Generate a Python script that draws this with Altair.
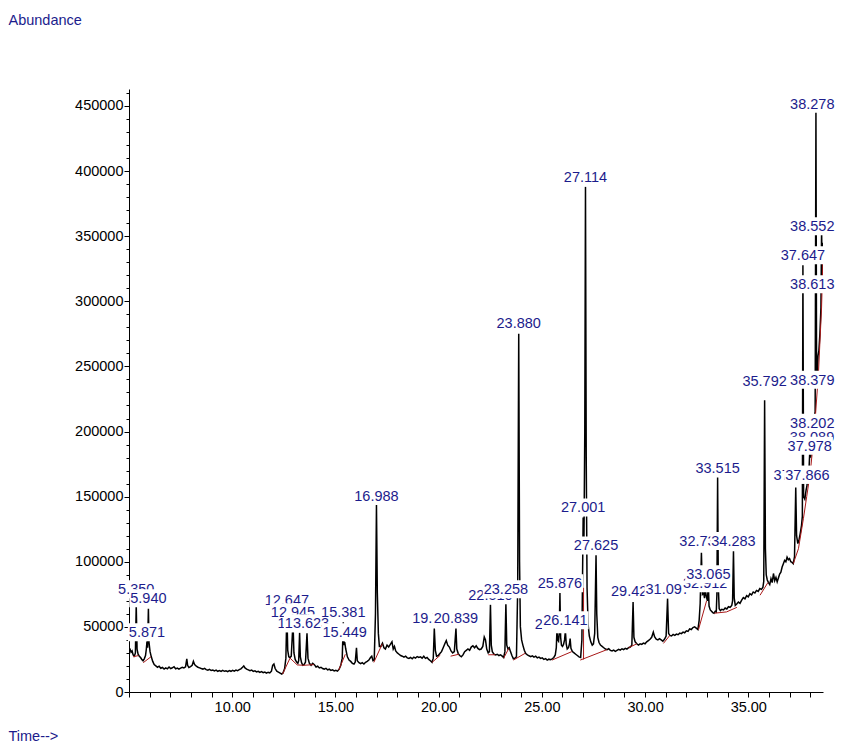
import altair as alt
import pandas as pd

# ---------------- trace (retention time in minutes, abundance) ----------------
RT_A = [5.00, 5.05, 5.10, 5.15, 5.20, 5.26, 5.31, 5.35, 5.39, 5.44,
        5.50, 5.56, 5.62, 5.68, 5.74, 5.80, 5.84, 5.871, 5.90, 5.94,
        5.97, 6.02, 6.08]
AB_A = [34000, 33000, 30500, 31500, 28500, 27500, 30000, 67000, 33000, 29000,
        27500, 26500, 25000, 24000, 25500, 28000, 33000, 39000, 34000, 64000,
        38000, 31000, 27000]

RT_B = [6.15, 6.22, 6.30, 6.38, 6.46, 6.54, 6.62, 6.70, 6.78, 6.86,
        6.94, 7.02, 7.10, 7.18, 7.26, 7.34, 7.42, 7.50, 7.58, 7.66,
        7.74, 7.80, 7.84, 7.90, 7.98, 8.06, 8.12, 8.18, 8.26, 8.34,
        8.42, 8.50, 8.58, 8.66, 8.74, 8.82, 8.90, 8.98, 9.06, 9.14,
        9.22, 9.30, 9.38, 9.46, 9.54, 9.62, 9.70, 9.78, 9.86, 9.94,
        10.02, 10.10, 10.18, 10.26, 10.34, 10.42, 10.50, 10.56, 10.62, 10.70,
        10.78, 10.86, 10.94, 11.02, 11.10, 11.18, 11.26, 11.34, 11.42, 11.50,
        11.58, 11.66, 11.74, 11.82, 11.90, 11.96, 12.02, 12.08, 12.16, 12.24,
        12.32, 12.40, 12.46]
AB_B = [23500, 21000, 20000, 19000, 19800, 18200, 18800, 17600, 18500, 17800,
        19200, 18000, 18600, 19400, 17800, 18400, 17600, 18300, 19000, 18500,
        19300, 25500, 20500, 18800, 19500, 20500, 23500, 21000, 19800, 19000,
        18500, 18000, 17600, 18200, 17200, 16800, 17400, 16500, 16900, 16200,
        16800, 15900, 16400, 15800, 16600, 15900, 16300, 15700, 16500, 15900,
        16600, 16000, 16800, 16300, 17200, 17800, 19000, 20000, 18500, 17600,
        17000, 16400, 16900, 15800, 16200, 15400, 15900, 15000, 15600, 14800,
        15300, 14500, 15200, 14700, 16000, 20500, 21500, 18000, 16000, 15200,
        14500, 13800, 14500]

RT_C = [12.54, 12.60, 12.647, 12.69, 12.74, 12.80, 12.86, 12.945, 12.99, 13.05,
        13.12, 13.18, 13.22, 13.265, 13.30, 13.36, 13.42, 13.48, 13.55, 13.623,
        13.67, 13.74, 13.82, 13.90, 13.98, 14.06, 14.14, 14.22, 14.30, 14.38,
        14.46, 14.54, 14.62, 14.70, 14.78, 14.86, 14.94, 15.02, 15.10]
AB_C = [18000, 26000, 62000, 32000, 27000, 26500, 27500, 53600, 30000, 25000,
        23000, 22000, 24000, 45500, 27000, 22500, 20500, 21000, 23000, 45000,
        26000, 22000, 20500, 22000, 21000, 19200, 19800, 18500, 19000, 18000,
        17600, 18200, 17000, 17500, 16600, 17000, 16200, 16700, 16000]

RT_D = [15.18, 15.26, 15.33, 15.381, 15.42, 15.449, 15.50, 15.58, 15.66, 15.74,
        15.82, 15.90, 15.96, 16.02, 16.06, 16.14, 16.22, 16.30, 16.38, 16.46,
        16.54, 16.62, 16.70, 16.76, 16.82, 16.88, 16.94, 16.988, 17.03, 17.08,
        17.13, 17.20, 17.28, 17.35, 17.42, 17.50, 17.58, 17.66, 17.74, 17.80,
        17.86, 17.92, 18.00, 18.08, 18.16, 18.24, 18.32, 18.40, 18.48, 18.56,
        18.64, 18.72, 18.80, 18.88, 18.96, 19.04, 19.12, 19.20, 19.28, 19.36,
        19.44, 19.52, 19.60, 19.68]
AB_D = [17500, 20500, 26000, 53600, 36000, 38300, 33000, 27000, 24500, 23500,
        22000, 21500, 23000, 34000, 24000, 22500, 21800, 22500, 21500, 22800,
        23500, 24500, 26500, 27500, 24000, 24500, 60000, 143500, 76000, 45000,
        35000, 35000, 37500, 34000, 33000, 36000, 34500, 36500, 38500, 33000,
        35000, 31500, 30000, 29000, 28000, 27500, 26800, 27500, 26200, 25800,
        26500, 25500, 26800, 26000, 27200, 26500, 27000, 26000, 27500, 25800,
        26500, 25000, 24000, 22800]

RT_E = [19.74, 19.79, 19.84, 19.90, 19.98, 20.06, 20.14, 20.22, 20.30, 20.37,
        20.44, 20.52, 20.60, 20.68, 20.76, 20.839, 20.88, 20.95, 21.02, 21.10,
        21.18, 21.26, 21.34, 21.42, 21.50, 21.58, 21.66, 21.74, 21.82, 21.90,
        21.98, 22.06, 22.14, 22.21, 22.27, 22.33, 22.40, 22.46, 22.51, 22.55,
        22.60, 22.68, 22.76, 22.84, 22.92, 23.00, 23.08, 23.15, 23.21, 23.258,
        23.30, 23.36, 23.42, 23.48, 23.55, 23.62, 23.70, 23.77]
AB_E = [26000, 48800, 32000, 27500, 28000, 29500, 31000, 34000, 37000, 39500,
        36000, 34500, 31500, 30000, 31000, 48800, 33000, 29500, 28000, 27000,
        28500, 31000, 32000, 33000, 32000, 34500, 35500, 34000, 35500, 33500,
        32500, 33000, 35000, 42300, 40000, 33000, 30000, 31000, 67000, 36000,
        31000, 29000, 28500, 29000, 28000, 28500, 27500, 26500, 31000, 68000,
        36000, 33000, 34000, 31000, 28000, 25500, 26000, 27000]

RT_F = [23.83, 23.88, 23.92, 23.96, 24.02, 24.08, 24.15, 24.22, 24.30, 24.38,
        24.46, 24.54, 24.62, 24.70, 24.78, 24.86, 24.94, 25.02, 25.10, 25.18,
        25.26, 25.34, 25.42, 25.50, 25.58, 25.65, 25.70, 25.73, 25.77, 25.81,
        25.84, 25.876, 25.91, 25.95, 26.00, 26.05, 26.10, 26.141, 26.18, 26.23,
        26.29, 26.34, 26.37, 26.41, 26.48, 26.56, 26.64, 26.72, 26.80, 26.88]
AB_F = [80000, 275000, 100000, 50000, 40000, 36000, 32000, 29500, 28500, 27800,
        27200, 27800, 26800, 27500, 26200, 26800, 25800, 26200, 25000, 25600,
        24500, 25200, 24800, 25500, 26500, 28500, 34000, 47000, 40000, 39000,
        45000, 76000, 42000, 36000, 35000, 36500, 40000, 47000, 37000, 33000,
        34000, 37000, 41000, 33500, 31000, 30000, 29000, 28000, 27000, 26500]

RT_G = [26.94, 27.001, 27.04, 27.08, 27.114, 27.15, 27.19, 27.24, 27.30, 27.37,
        27.44, 27.50, 27.56, 27.625, 27.66, 27.71, 27.77, 27.84, 27.92, 28.00,
        28.08, 28.16, 28.24, 28.32, 28.40, 28.48, 28.56, 28.64, 28.72, 28.80,
        28.88, 28.96, 29.04, 29.12, 29.20, 29.28, 29.36, 29.42, 29.46, 29.52,
        29.60, 29.68, 29.76, 29.84, 29.92, 30.00, 30.08, 30.16, 30.24, 30.32,
        30.40, 30.46, 30.54, 30.62, 30.70, 30.78, 30.86, 30.94, 31.02, 31.09,
        31.14, 31.20, 31.28, 31.36, 31.44, 31.52, 31.60, 31.68, 31.76, 31.84,
        31.92, 32.00, 32.08, 32.16, 32.24, 32.32, 32.40, 32.48, 32.56]
AB_G = [40000, 134000, 118000, 200000, 388000, 180000, 80000, 52000, 43000, 38500,
        36000, 37000, 45000, 104900, 60000, 42000, 38000, 36000, 35000, 34000,
        33000, 32500, 33200, 32000, 31500, 32200, 31200, 32000, 32800, 32200,
        33200, 32600, 33500, 33000, 34000, 34500, 36000, 69000, 42000, 38500,
        37000, 36000, 37000, 36500, 37500, 37000, 38500, 39500, 40500, 42000,
        46000, 42500, 40500, 40000, 41000, 40000, 39000, 40500, 43000, 71700,
        45000, 43500, 43000, 44200, 43500, 44500, 44000, 45200, 44800, 46000,
        45500, 47000, 46500, 48500, 48000, 49500, 50000, 49000, 48000]

RT_H = [32.62, 32.67, 32.73, 32.78, 32.84, 32.88, 32.912, 32.96, 33.02, 33.065,
        33.10, 33.16, 33.22, 33.28, 33.34, 33.40, 33.45, 33.48, 33.515, 33.55,
        33.59, 33.65, 33.72, 33.80, 33.88, 33.96, 34.04, 34.12, 34.20, 34.24,
        34.283, 34.32, 34.37, 34.44, 34.52, 34.60, 34.68, 34.76, 34.84, 34.92,
        35.00, 35.08, 35.16, 35.24, 35.32, 35.40, 35.48, 35.56, 35.64, 35.71,
        35.75, 35.792, 35.83, 35.87, 35.92, 35.98, 36.04, 36.10, 36.16, 36.22,
        36.28, 36.34, 36.40, 36.46, 36.52, 36.58, 36.64, 36.70, 36.76, 36.82,
        36.88, 36.94, 37.00, 37.06, 37.12, 37.18, 37.24, 37.30, 37.34, 37.40,
        37.46, 37.52, 37.58, 37.62, 37.647, 37.68, 37.74, 37.80, 37.84, 37.866,
        37.90, 37.94, 37.978, 38.02, 38.06, 38.09, 38.13, 38.17, 38.202, 38.24,
        38.278, 38.31, 38.35, 38.379, 38.42, 38.47, 38.52, 38.552, 38.58, 38.613,
        38.62]
AB_H = [55000, 68000, 107000, 75000, 76000, 72000, 80000, 74000, 70000, 83000,
        66000, 63000, 62000, 61000, 60500, 62000, 61500, 75000, 164600, 80000,
        64000, 62500, 63500, 63000, 64500, 63800, 65500, 65000, 66500, 70000,
        108000, 72000, 66500, 67500, 69000, 68000, 70500, 72500, 71500, 74000,
        73000, 75500, 74500, 76800, 76000, 78000, 77200, 79400, 78800, 80500,
        85000, 224000, 110000, 90000, 86000, 84000, 82500, 87000, 84000, 91000,
        85500, 88000, 84500, 87500, 90500, 92000, 96000, 98500, 101000, 100000,
        103500, 101500, 102500, 100000, 99500, 98500, 104000, 157000, 120000, 114000,
        117000, 122000, 128000, 135000, 327700, 150000, 148000, 155000, 158000, 162000,
        163000, 170000, 184000, 180000, 185000, 198000, 193000, 198000, 212000, 215000,
        446000, 236000, 245000, 258000, 262000, 275000, 295000, 355000, 320000, 338000,
        345000]

# ---------------- integration baselines (red) ----------------
BL_SEG = [1, 1, 2, 2, 3, 3, 3, 3, 3, 4, 4, 5, 5, 6, 6, 7, 7, 8, 8, 9, 9,
          10, 10, 11, 11, 12, 12, 13, 13, 14, 14, 15, 15, 16, 16, 16, 17, 17,
          18, 18, 18, 18, 18, 18, 18, 18, 18, 19, 19]
BL_RT = [5.20, 5.46, 5.69, 6.06, 12.44, 12.80, 13.15, 13.45, 13.95, 15.16, 15.48,
         16.86, 17.27, 19.68, 20.08, 20.58, 20.98, 22.40, 22.74, 23.15, 23.40,
         23.62, 24.20, 25.49, 26.45, 26.86, 28.15, 29.20, 29.60, 30.89, 31.20,
         32.59, 32.98, 33.36, 33.95, 34.45, 35.57, 35.95,
         37.18, 37.43, 37.67, 37.83, 38.00, 38.20, 38.40, 38.55, 38.62, 27.02, 27.02]
BL_AB = [27000, 28000, 22500, 27000, 13800, 26000, 20800, 20500, 21000, 16800, 29000,
         22700, 37000, 22700, 28300, 27500, 29000, 28600, 28600, 26000, 33500,
         24500, 29800, 24500, 31000, 24500, 32500, 34000, 37000, 37300, 43500,
         48000, 70000, 60500, 61500, 65000, 74300, 84000,
         98500, 110000, 133000, 150000, 168000, 200000, 245000, 295000, 335000, 25000, 80000]

# ---------------- peak labels ----------------
LAB_TEXT = ["5.350", "5.940", "5.871", "12.647", "12.945", "13.265", "13.623",
            "15.381", "15.449", "16.988", "19.790", "20.839", "22.510", "23.258",
            "23.880", "25.730", "26.141", "25.876", "27.001", "27.114", "27.625",
            "29.425", "31.097", "32.912", "33.065", "32.735", "34.283", "33.515",
            "35.792", "37.302", "37.866", "37.647", "38.089", "37.978", "38.202",
            "38.278", "38.379", "38.552", "38.613"]
LAB_RT = [5.350, 5.940, 5.871, 12.647, 12.945, 13.265, 13.623,
          15.381, 15.449, 16.988, 19.790, 20.839, 22.510, 23.258,
          23.880, 25.730, 26.141, 25.876, 27.001, 27.114, 27.625,
          29.425, 31.097, 32.912, 33.065, 32.735, 34.283, 33.515,
          35.792, 37.302, 37.866, 37.647, 38.089, 37.978, 38.202,
          38.278, 38.379, 38.552, 38.613]
LAB_Y = [78100, 71200, 45200, 69700, 60500, 52100, 52100,
         60500, 45200, 150000, 55900, 55900, 73500, 78100,
         282500, 51300, 54400, 82700, 140900, 394300, 111800,
         76600, 78100, 82700, 89600, 115100, 115100, 171500,
         238100, 166100, 166100, 334600, 195200, 188300, 206000,
         450900, 238900, 356800, 312400]
LAB_Z = [0, 1, 1, 0, 1, 1, 2,
         2, 3, 0, 0, 1, 0, 1,
         0, 0, 1, 1, 0, 0, 1,
         0, 1, 2, 3, 0, 1, 0,
         0, 0, 1, 0, 0, 1, 1,
         0, 0, 0, 0]

NAVY = "#1c1c8c"
RED = "#a81818"
FONT = "Liberation Sans"
FS = 14.5
X_MIN, X_MAX = 5.0, 38.62
LABEL_X_MAX = 38.10   # keep the right-most labels inside the page

rt = RT_A + RT_B + RT_C + RT_D + RT_E + RT_F + RT_G + RT_H
ab = AB_A + AB_B + AB_C + AB_D + AB_E + AB_F + AB_G + AB_H
assert len(rt) == len(ab)
trace_df = pd.DataFrame({"rt": rt, "ab": ab})
base_df = pd.DataFrame({"seg": BL_SEG, "rt": BL_RT, "ab": BL_AB})
lab_df = pd.DataFrame({"label": LAB_TEXT, "rt": [min(v, LABEL_X_MAX) for v in LAB_RT],
                       "ab": LAB_Y, "z": LAB_Z})


def box_width(s):
    # approximate rendered width of the label text (Arial-metric digits)
    return sum(0.278 * FS if c == "." else 0.556 * FS for c in s) + 2


BOX_UP, BOX_DOWN = 10, 8   # white label box extent above / below the text centre (px)
lab_df["bw"] = lab_df["label"].map(box_width)
lab_df["bsize"] = lab_df["bw"] ** 2
lab_df["bshape"] = lab_df["bw"].map(
    lambda w: "M-1,-{0:.4f}H1V{1:.4f}H-1Z".format(2 * BOX_UP / w, 2 * BOX_DOWN / w))

xs = alt.Scale(domain=[X_MIN, X_MAX], nice=False, zero=False)
ys = alt.Scale(domain=[0, 463000], nice=False, zero=True)

x_axis = alt.Axis(
    values=list(range(5, 39)),
    labelExpr="(datum.value % 5 == 0 && datum.value >= 10) ? format(datum.value, '.2f') : ''",
    tickSize=5, tickColor="black", domainColor="black", grid=False,
    labelFont=FONT, labelFontSize=FS, labelColor="black", labelPadding=3,
    labelOverlap=False, labelFlush=False,
    titleX=-121, titleY=44, titleAlign="left",
    titleBaseline="middle", titleAngle=0, titleFont=FONT, titleFontSize=FS,
    titleFontWeight="normal", titleColor=NAVY)

y_axis = alt.Axis(
    values=list(range(0, 460001, 10000)),
    labelExpr="datum.value % 50000 == 0 ? format(datum.value, 'd') : ''",
    tickSize={"condition": {"test": "datum.value % 50000 == 0", "value": 5}, "value": 3},
    tickColor="black", domainColor="black", grid=False,
    labelFont=FONT, labelFontSize=FS, labelColor="black", labelPadding=1,
    labelOverlap=False, labelFlush=False,
    titleX=-121, titleY=-69, titleAlign="left",
    titleBaseline="middle", titleAngle=0, titleFont=FONT, titleFontSize=FS,
    titleFontWeight="normal", titleColor=NAVY)

X = alt.X("rt:Q", scale=xs, axis=x_axis, title="Time-->")
Y = alt.Y("ab:Q", scale=ys, axis=y_axis, title="Abundance")

trace = alt.Chart(trace_df).mark_line(color="black", strokeWidth=1.5, clip=True).encode(
    x=X, y=Y,
)

base = alt.Chart(base_df).mark_line(color=RED, strokeWidth=1, clip=True).encode(
    x=X, y=Y,
    detail="seg:N",
    order="rt:Q",
)

label_layers = []
for z in sorted(set(LAB_Z)):
    sub = alt.Chart(lab_df).transform_filter(alt.datum.z == z)
    box = sub.mark_point(filled=True, color="white", opacity=1, strokeWidth=0).encode(
        x=X, y=Y,
        shape=alt.Shape("bshape:N", scale=None),
        size=alt.Size("bsize:Q", scale=None),
    )
    txt = sub.mark_text(font=FONT, fontSize=FS, color=NAVY, align="center",
                        baseline="middle").encode(
        x=X, y=Y,
        text="label:N",
    )
    label_layers += [box, txt]

chart = alt.layer(trace, base, *label_layers).properties(
    width=694,
    height=603,
    padding={"left": 121, "top": 81, "right": 12, "bottom": 51},
    autosize=alt.AutoSizeParams(type="none"),
    title=alt.Title("TIC: GARLIC.D\\data.ms", font=FONT, fontSize=FS,
                    fontWeight="normal", color="black", anchor="middle", offset=4),
    background="white",
).configure_view(stroke=None)

chart.save("out.html", embed_options={"renderer": "svg", "actions": False})
